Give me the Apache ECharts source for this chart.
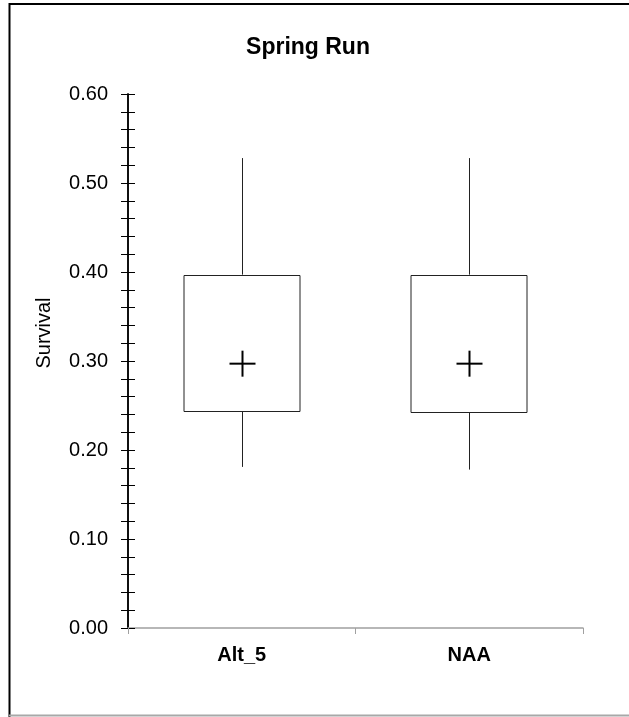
<!DOCTYPE html>
<html>
<head>
<meta charset="utf-8">
<script src="https://cdn.jsdelivr.net/npm/echarts@6/dist/echarts.min.js"></script>
<style>
  html, body { margin: 0; padding: 0; background: #fff; }
  #chart { width: 629px; height: 717px; }
</style>
</head>
<body>
<div id="chart"></div>
<script>
// 类别和箱线数据
var categories = ["Alt_5", "NAA"];
var lowWhisker = [0.181, 0.178];
var q1 = [0.244, 0.243];
var q3 = [0.397, 0.397];
var highWhisker = [0.528, 0.528];
var means = [0.297, 0.297];
var yTicks = [0, 0.1, 0.2, 0.3, 0.4, 0.5, 0.6];

var boxData = categories.map(function (c, i) {
  return [i, lowWhisker[i], q1[i], q3[i], highWhisker[i], means[i]];
});

var gridBox = { left: 128, right: 46, top: 94, bottom: 89 };

function renderBox(params, api) {
  var i = api.value(0);
  var lo = api.coord([i, api.value(1)]);
  var b = api.coord([i, api.value(2)]);
  var t = api.coord([i, api.value(3)]);
  var hi = api.coord([i, api.value(4)]);
  var m = api.coord([i, api.value(5)]);
  var half = api.size([1, 0])[0] * 0.255;
  var x = Math.round(lo[0]) + 0.5;
  var line = { stroke: "#222", lineWidth: 1 };
  return {
    type: "group",
    children: [
      { type: "line", shape: { x1: x, y1: hi[1], x2: x, y2: t[1] }, style: line },
      { type: "line", shape: { x1: x, y1: b[1], x2: x, y2: lo[1] }, style: line },
      {
        type: "rect",
        shape: { x: Math.round(x - half), y: Math.round(t[1]) + 0.5, width: Math.round(half * 2), height: Math.round(b[1] - t[1]) },
        style: { fill: "#fff", stroke: "#222", lineWidth: 1 }
      },
      // 均值 + 号
      { type: "line", shape: { x1: x - 13, y1: m[1], x2: x + 13, y2: m[1] }, style: { stroke: "#000", lineWidth: 2 } },
      { type: "line", shape: { x1: x, y1: m[1] - 13, x2: x, y2: m[1] + 13 }, style: { stroke: "#000", lineWidth: 2 } }
    ]
  };
}

var yCommon = {
  type: "value",
  min: 0,
  max: 0.6,
  interval: 0.1,
  splitLine: { show: false },
  axisLine: { show: true, lineStyle: { color: "#000", width: 1.5 } },
  minorTick: { show: true, splitNumber: 5, length: 7, lineStyle: { color: "#000", width: 1 } }
};

var option = {
  backgroundColor: "#fff",
  animation: false,
  title: {
    text: "Spring Run",
    left: 303,
    top: 31,
    textAlign: "center",
    textStyle: { fontFamily: "Liberation Sans", fontSize: 23, fontWeight: "bold", color: "#000" }
  },
  grid: [
    Object.assign({}, gridBox),
    Object.assign({}, gridBox)
  ],
  xAxis: [
    {
      type: "category",
      gridIndex: 0,
      data: categories,
      axisLine: { lineStyle: { color: "#a0a0a0", width: 1.5 } },
      axisTick: { show: true, length: 6, lineStyle: { color: "#a0a0a0" } },
      axisLabel: {
        margin: 17,
        color: "#000",
        fontFamily: "Liberation Sans",
        fontSize: 20,
        fontWeight: "bold"
      }
    },
    { type: "category", gridIndex: 1, data: categories, show: false }
  ],
  yAxis: [
    Object.assign({}, yCommon, {
      gridIndex: 0,
      axisTick: { show: true, length: 7, lineStyle: { color: "#000" } },
      axisLabel: {
        margin: 20,
        color: "#000",
        fontFamily: "Liberation Sans",
        fontSize: 20,
        formatter: function (v) {
          return yTicks.indexOf(Math.round(v * 10) / 10) >= 0 ? v.toFixed(2) : "";
        }
      }
    }),
    Object.assign({}, yCommon, {
      gridIndex: 1,
      axisTick: { show: true, inside: true, length: 7, lineStyle: { color: "#000" } },
      axisLabel: { show: false }
    })
  ],
  graphic: [
    { type: "line", shape: { x1: 9.5, y1: 3, x2: 9.5, y2: 717 }, style: { stroke: "#000", lineWidth: 2 } },
    { type: "line", shape: { x1: 9, y1: 4, x2: 629, y2: 4 }, style: { stroke: "#000", lineWidth: 2 } },
    { type: "line", shape: { x1: 9, y1: 715.5, x2: 629, y2: 715.5 }, style: { stroke: "#a8a8a8", lineWidth: 2 } },
    // y 轴标题
    {
      type: "text",
      x: 44,
      y: 333,
      rotation: Math.PI / 2,
      style: {
        text: "Survival",
        fontFamily: "Liberation Sans",
        fontSize: 20,
        fill: "#000",
        align: "center",
        verticalAlign: "middle"
      }
    }
  ],
  series: [
    {
      type: "custom",
      xAxisIndex: 0,
      yAxisIndex: 0,
      renderItem: renderBox,
      encode: { x: 0, y: [1, 2, 3, 4, 5] },
      data: boxData,
      z: 5
    }
  ]
};

var chartObj = echarts.init(document.getElementById("chart"));
chartObj.setOption(option);
window.addEventListener("resize", function () {
  chartObj.resize();
});
</script>
</body>
</html>
